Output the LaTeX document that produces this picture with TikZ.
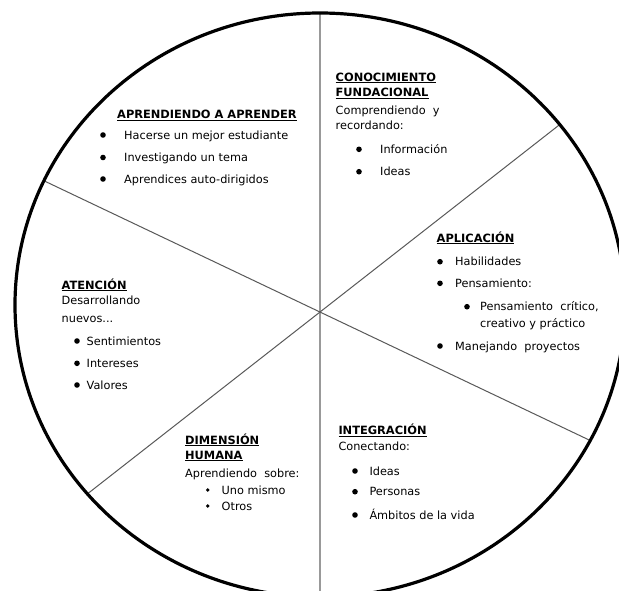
\documentclass[tikz,border=0pt]{standalone}
\usepackage{fontspec}
\setmainfont{DejaVu Sans}
\begin{document}
\begin{tikzpicture}[x=1pt,y=-1pt,
  hd/.style={anchor=base west, inner sep=0pt, font=\bfseries\fontsize{11.4}{13}\selectfont},
  tx/.style={anchor=base west, inner sep=0pt, font=\fontsize{11.3}{13}\selectfont},
  bul/.style={circle, fill=black, inner sep=0pt, minimum size=5.6pt},
  sbul/.style={circle, fill=black, inner sep=0pt, minimum size=3.8pt},
  rim/.style={line width=3.2pt, black},
  vline/.style={line width=1.8pt, black!40},
  dline/.style={line width=1pt, black!65}]
\useasboundingbox (0,0) rectangle (619,590);
\clip (0,0) rectangle (619,590);
\fill[white] (0,0) rectangle (619,590);
% spokes
\coordinate (c) at (320,312);
\coordinate (top) at (320,13);
\coordinate (bot) at (320,597);
\coordinate (ul) at (44,180.8);
\coordinate (lr) at (590.2,440.5);
\coordinate (ur) at (559.8,124.5);
\coordinate (ll) at (87.4,493.9);
\draw[vline] (top) -- (bot);
\draw[dline] (ul) -- (lr);
\draw[dline] (ur) -- (ll);
\draw[rim] (320,305) ellipse [x radius=305pt, y radius=292pt];
% Aprendiendo a aprender
\node[hd] (h1) at (117,118.5) {\underline{APRENDIENDO A APRENDER}};
\node[bul] (b11) at (103,135) {};
\node[tx] (t11) at (124,139) {Hacerse un mejor estudiante};
\node[bul] (b12) at (103,157.5) {};
\node[tx] (t12) at (124,161.5) {Investigando un tema};
\node[bul] (b13) at (103,179) {};
\node[tx] (t13) at (124,183) {Aprendices auto-dirigidos};
% Conocimiento fundacional
\node[hd] (h2a) at (335.5,81) {\underline{CONOCIMIENTO}};
\node[hd] (h2b) at (335.5,96.5) {\underline{FUNDACIONAL}};
\node[tx] (t2a) at (335.5,114) {Comprendiendo\ \ y};
\node[tx] (t2b) at (335.5,129) {recordando:};
\node[bul] (b21) at (359,149.3) {};
\node[tx] (t21) at (380,153.3) {Información};
\node[bul] (b22) at (359,171.7) {};
\node[tx] (t22) at (380,175.7) {Ideas};
% Aplicacion
\node[hd] (h3) at (436.5,242) {\underline{APLICACIÓN}};
\node[bul] (b31) at (440,261.7) {};
\node[tx] (t31) at (455,265.7) {Habilidades};
\node[bul] (b32) at (440,283.3) {};
\node[tx] (t32) at (455,287.3) {Pensamiento:};
\node[bul] (b33) at (467,306.7) {};
\node[tx] (t33a) at (480,310.7) {Pensamiento\ \ crítico,};
\node[tx] (t33b) at (480,327.3) {creativo\ y\ práctico};
\node[bul] (b34) at (440,346) {};
\node[tx] (t34) at (455,350) {Manejando\ \ proyectos};
% Atencion
\node[hd] (h4) at (61.5,289) {\underline{ATENCIÓN}};
\node[tx] (t4a) at (61.5,304.7) {Desarrollando};
\node[tx] (t4b) at (61.5,322.8) {nuevos...};
\node[bul] (b41) at (77,341) {};
\node[tx] (t41) at (86.5,345) {Sentimientos};
\node[bul] (b42) at (77,363.3) {};
\node[tx] (t42) at (86.5,367.3) {Intereses};
\node[bul] (b43) at (77,385) {};
\node[tx] (t43) at (86.5,389) {Valores};
% Dimension humana
\node[hd] (h5a) at (185,444) {\underline{DIMENSIÓN}};
\node[hd] (h5b) at (185,459) {\underline{HUMANA}};
\node[tx] (t5a) at (185,477.3) {Aprendiendo\ \ sobre:};
\node[sbul] (b51) at (207.7,490) {};
\node[tx] (t51) at (221.5,494) {Uno mismo};
\node[sbul] (b52) at (207.7,506) {};
\node[tx] (t52) at (221.5,510) {Otros};
% Integracion
\node[hd] (h6) at (338.3,434.7) {\underline{INTEGRACIÓN}};
\node[tx] (t6a) at (338.3,450.7) {Conectando:};
\node[bul] (b61) at (355,471) {};
\node[tx] (t61) at (369.3,475) {Ideas};
\node[bul] (b62) at (355,491.7) {};
\node[tx] (t62) at (369.3,495.7) {Personas};
\node[bul] (b63) at (355,515) {};
\node[tx] (t63) at (369.3,519) {Ámbitos\ de\ la\ vida};
\end{tikzpicture}
\end{document}
